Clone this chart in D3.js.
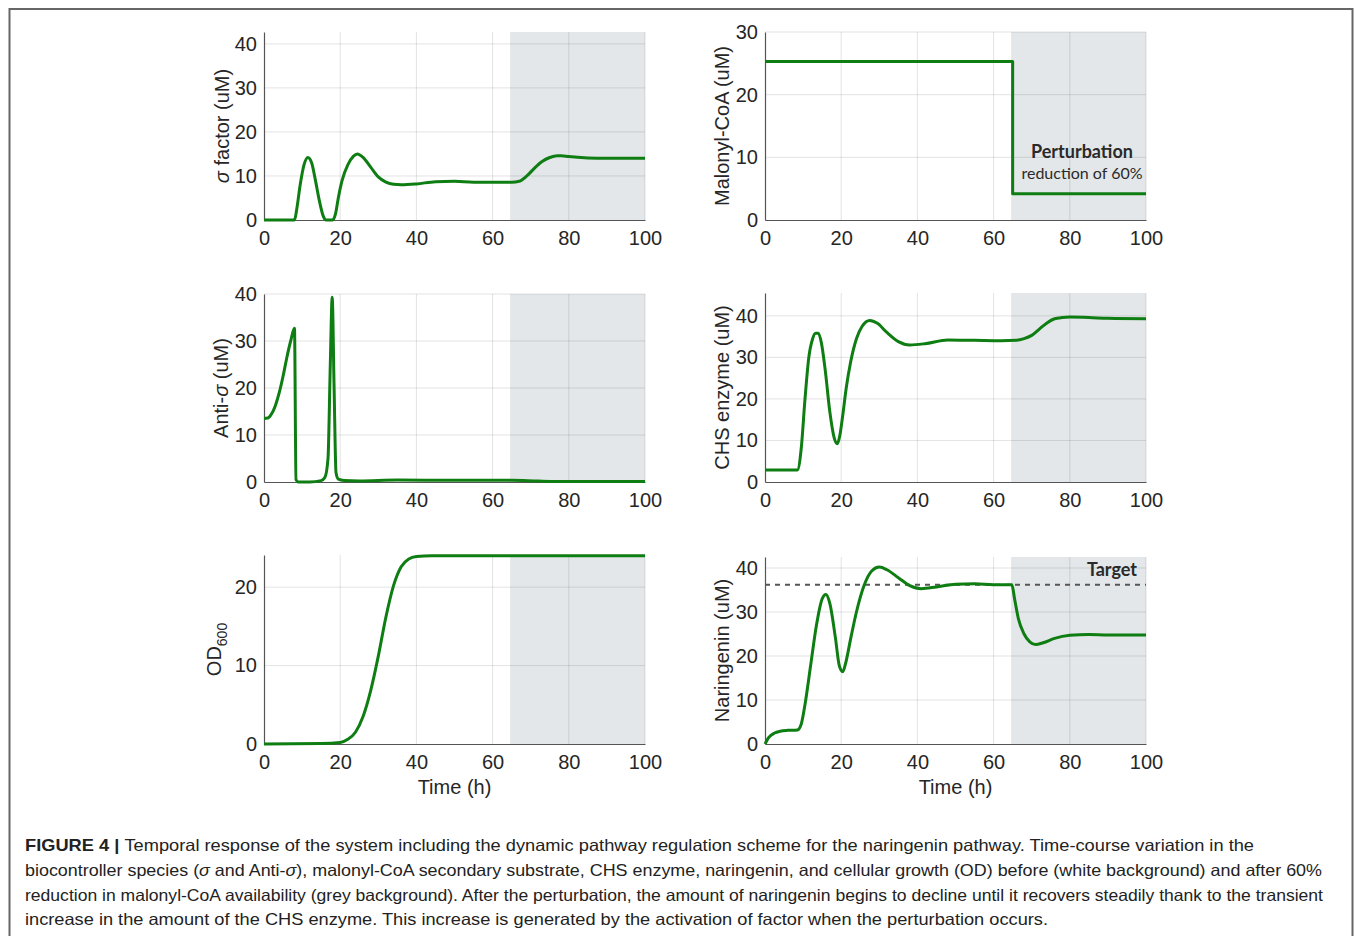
<!DOCTYPE html>
<html>
<head>
<meta charset="utf-8">
<script src="https://cdn.jsdelivr.net/npm/d3@7"></script>
<style>
  body { margin: 0; background: #fff; }
  svg { display: block; }
</style>
</head>
<body>
<script>
// ---- data (time in h, values in uM / OD) ----
var xTicks = [0, 20, 40, 60, 80, 100];
var perturbStart = 64.6;   // grey background starts here
var targetLevel = 36.2;    // dashed naringenin target

var sigmaT = [0, 8, 8.6, 9.5, 10.5, 11.5, 12.5, 13.5, 14.5, 15.5, 16.3, 17, 18, 18.8, 19.5, 20.5, 22, 23.5, 24.5, 26, 28, 30, 32, 34, 36, 40, 45, 50, 55, 60, 65, 67, 69, 71, 73, 75, 77, 78, 80, 85, 90, 100];
var sigmaV = [0, 0, 2.5, 8, 12.5, 14.2, 13, 9, 4.5, 1, 0, 0, 0, 1.5, 5, 9, 12.5, 14.5, 15, 14.2, 12, 9.8, 8.6, 8.1, 8, 8.2, 8.7, 8.8, 8.6, 8.6, 8.6, 8.8, 10, 11.8, 13.3, 14.2, 14.6, 14.6, 14.4, 14.1, 14, 14];

var malonylT = [0, 65, 65, 100];
var malonylV = [25.3, 25.3, 4.2, 4.2];

var antiT = [0, 1, 2, 3, 4, 5, 6, 7, 8, 8.4, 9, 12, 15, 16, 16.8, 17.4, 17.9, 18.4, 18.9, 19.5, 21, 25, 35, 50, 65, 72, 80, 100];
var antiV = [13.5, 13.6, 14.5, 16.3, 19, 22.5, 26.5, 30, 32.7, 0.5, 0, 0, 0.3, 1, 5, 25, 39.3, 20, 2, 0.6, 0.3, 0.2, 0.4, 0.35, 0.35, 0.2, 0.1, 0.1];

var chsT = [0, 8.5, 9.5, 10.5, 11.5, 12.5, 13.3, 14, 14.8, 15.8, 17, 18.2, 19, 19.6, 20.4, 21.3, 22.5, 24, 25.5, 27.5, 29.5, 32, 35, 38, 42, 48, 55, 62, 66, 68, 70, 72, 74, 76, 78, 80, 85, 90, 100];
var chsV = [2.9, 2.9, 8, 20, 30, 34.5, 35.8, 35.8, 33.5, 27, 17, 10.5, 9.2, 11, 16, 22.5, 29, 34.5, 37.5, 38.9, 38.2, 36, 33.8, 33, 33.3, 34.2, 34.1, 34, 34.1, 34.5, 35.3, 36.8, 38.3, 39.3, 39.6, 39.7, 39.6, 39.4, 39.3];

var odT = [0, 15, 20, 22, 24, 26, 28, 30, 32, 34, 36, 38, 40, 44, 50, 100];
var odV = [0, 0.05, 0.2, 0.6, 1.5, 3.5, 6.8, 11.2, 16.2, 20.2, 22.6, 23.6, 23.9, 24, 24, 24];

var narT = [0, 1, 2.5, 4, 6, 8.5, 9.5, 10.5, 12, 13.5, 15, 16, 17, 18.5, 19.5, 20.4, 21.2, 22.5, 24, 26, 28, 30, 32, 35, 38, 41, 45, 50, 55, 60, 64.8, 65.5, 66.5, 68, 69.5, 71, 73, 76, 80, 85, 90, 100];
var narV = [0, 1.5, 2.5, 2.9, 3.1, 3.2, 4.5, 9, 18, 27, 33, 34, 32, 24, 17.8, 16.4, 18.5, 24, 30, 36, 39.3, 40.2, 39.6, 37.8, 36, 35.3, 35.7, 36.3, 36.4, 36.2, 36.2, 33, 28.5, 25, 23.2, 22.6, 23, 24, 24.7, 24.9, 24.8, 24.8];

var captionLines = [
  [{t: "FIGURE 4 | ", b: true}, {t: "Temporal response of the system including the dynamic pathway regulation scheme for the naringenin pathway. Time-course variation in the"}],
  [{t: "biocontroller species ("}, {t: "σ", i: true}, {t: " and Anti-"}, {t: "σ", i: true}, {t: "), malonyl-CoA secondary substrate, CHS enzyme, naringenin, and cellular growth (OD) before (white background) and after 60%"}],
  [{t: "reduction in malonyl-CoA availability (grey background). After the perturbation, the amount of naringenin begins to decline until it recovers steadily thank to the transient"}],
  [{t: "increase in the amount of the CHS enzyme. This increase is generated by the activation of factor when the perturbation occurs."}]
];
var captionWidths = [1229, 1297, 1298, 1023];

// ---- page ----
var W = 1355, H = 936;
var font = "'Liberation Sans', Arial, Helvetica, sans-serif";
var green = "#0e7d12";
var plotW = 381;

var svg = d3.select("body").append("svg")
    .attr("width", W)
    .attr("height", H);

svg.append("rect").attr("width", W).attr("height", H).attr("fill", "#fff");

// frame round the figure
svg.append("rect")
    .attr("x", 9.5).attr("y", 9)
    .attr("width", 1343).attr("height", 1000)
    .attr("fill", "none")
    .attr("stroke", "#666")
    .attr("stroke-width", 2);

function drawPanel(p) {
  var h = p.bottom - p.top;
  var x = d3.scaleLinear().domain([0, 100]).range([0, plotW]);
  var y = d3.scaleLinear().domain([0, p.ymax]).range([h, 0]);

  var g = svg.append("g")
      .attr("transform", "translate(" + p.left + "," + p.top + ")");

  // perturbation background
  g.append("rect")
      .attr("x", x(perturbStart))
      .attr("y", 0)
      .attr("width", x(100) - x(perturbStart))
      .attr("height", h)
      .attr("fill", "#e4e7e9");

  // grid
  g.append("g").selectAll("line")
    .data(xTicks.slice(1))
    .join("line")
      .attr("x1", function(d) { return x(d); })
      .attr("x2", function(d) { return x(d); })
      .attr("y1", 0).attr("y2", h)
      .attr("stroke", "#262626").attr("stroke-opacity", 0.13);
  g.append("g").selectAll("line")
    .data(p.yticks.slice(1))
    .join("line")
      .attr("x1", 0).attr("x2", plotW)
      .attr("y1", function(d) { return y(d); })
      .attr("y2", function(d) { return y(d); })
      .attr("stroke", "#262626").attr("stroke-opacity", 0.13);

  // target line
  if (p.target) {
    g.append("line")
        .attr("x1", x(0)).attr("x2", x(100))
        .attr("y1", y(p.target)).attr("y2", y(p.target))
        .attr("stroke", "#555")
        .attr("stroke-width", 2)
        .attr("stroke-dasharray", "5,5");
  }

  // axes
  var xa = g.append("g")
      .attr("transform", "translate(0," + h + ")")
      .call(d3.axisBottom(x).tickValues(xTicks).tickSize(0).tickPadding(11));
  var ya = g.append("g")
      .call(d3.axisLeft(y).tickValues(p.yticks).tickSize(0).tickPadding(7));
  [xa, ya].forEach(function(a) {
    a.attr("font-size", 20).attr("font-family", font);
    a.select(".domain").attr("stroke", "#555").attr("stroke-width", 1.2);
    a.selectAll("text").attr("fill", "#262626");
  });

  // the series
  var line = d3.line()
      .x(function(d) { return x(d[0]); })
      .y(function(d) { return y(d[1]); })
      .curve(p.curve || d3.curveMonotoneX);
  g.append("path")
      .datum(d3.zip(p.t, p.v))
      .attr("fill", "none")
      .attr("stroke", green)
      .attr("stroke-width", 3)
      .attr("stroke-linejoin", "round")
      .attr("d", line);

  // y label
  var lab = g.append("text")
      .attr("transform", "translate(" + p.labelX + "," + (h / 2) + ") rotate(-90)")
      .attr("text-anchor", "middle")
      .attr("dy", "0.35em")
      .attr("font-family", font)
      .attr("font-size", 20)
      .attr("fill", "#262626");
  p.label.forEach(function(s) {
    var ts = lab.append("tspan").text(s.t);
    if (s.i) ts.attr("font-style", "italic");
    if (s.sub) ts.attr("font-size", 14).attr("dy", "0.45em");
  });

  if (p.xlabel) {
    g.append("text")
        .attr("x", plotW / 2)
        .attr("y", h + 50)
        .attr("text-anchor", "middle")
        .attr("font-family", font)
        .attr("font-size", 20)
        .attr("fill", "#262626")
        .text("Time (h)");
  }
  return {g: g, x: x, y: y};
}

var L = 264, R = 765;

drawPanel({left: L, top: 32, bottom: 220, ymax: 42.7, yticks: [0, 10, 20, 30, 40],
  t: sigmaT, v: sigmaV, labelX: -42,
  label: [{t: "σ", i: true}, {t: " factor (uM)"}]});

var mal = drawPanel({left: R, top: 32, bottom: 220, ymax: 30, yticks: [0, 10, 20, 30],
  t: malonylT, v: malonylV, curve: d3.curveLinear, labelX: -43,
  label: [{t: "Malonyl-CoA (uM)"}]});

drawPanel({left: L, top: 294, bottom: 482, ymax: 40, yticks: [0, 10, 20, 30, 40],
  t: antiT, v: antiV, labelX: -43,
  label: [{t: "Anti-"}, {t: "σ", i: true}, {t: " (uM)"}]});

drawPanel({left: R, top: 293, bottom: 482, ymax: 45.5, yticks: [0, 10, 20, 30, 40],
  t: chsT, v: chsV, labelX: -43,
  label: [{t: "CHS enzyme (uM)"}]});

drawPanel({left: L, top: 555, bottom: 744, ymax: 24.1, yticks: [0, 10, 20],
  t: odT, v: odV, labelX: -50, xlabel: true,
  label: [{t: "OD"}, {t: "600", sub: true}]});

var nar = drawPanel({left: R, top: 557, bottom: 744, ymax: 42.5, yticks: [0, 10, 20, 30, 40],
  t: narT, v: narV, labelX: -43, xlabel: true, target: targetLevel,
  label: [{t: "Naringenin (uM)"}]});

// annotations
mal.g.append("text")
    .attr("x", 317).attr("y", 126)
    .attr("text-anchor", "middle")
    .attr("font-family", "Lato, sans-serif")
    .attr("font-weight", "bold")
    .attr("font-size", 18)
    .attr("fill", "#2a2a2a")
    .text("Perturbation");
mal.g.append("text")
    .attr("x", 317).attr("y", 147)
    .attr("text-anchor", "middle")
    .attr("font-family", "Lato, sans-serif")
    .attr("font-size", 16)
    .attr("fill", "#2a2a2a")
    .text("reduction of 60%");
nar.g.append("text")
    .attr("x", 372).attr("y", 19)
    .attr("text-anchor", "end")
    .attr("font-family", "Lato, sans-serif")
    .attr("font-weight", "bold")
    .attr("font-size", 18)
    .attr("fill", "#2a2a2a")
    .text("Target");

// caption
captionLines.forEach(function(parts, i) {
  var t = svg.append("text")
      .attr("x", 25)
      .attr("y", 851 + i * 24.8)
      .attr("font-family", font)
      .attr("font-size", 16.5)
      .attr("fill", "#222")
      .attr("textLength", captionWidths[i])
      .attr("lengthAdjust", "spacingAndGlyphs");
  parts.forEach(function(s) {
    var ts = t.append("tspan").text(s.t);
    if (s.b) ts.attr("font-weight", "bold");
    if (s.i) ts.attr("font-style", "italic");
  });
});
</script>
</body>
</html>
